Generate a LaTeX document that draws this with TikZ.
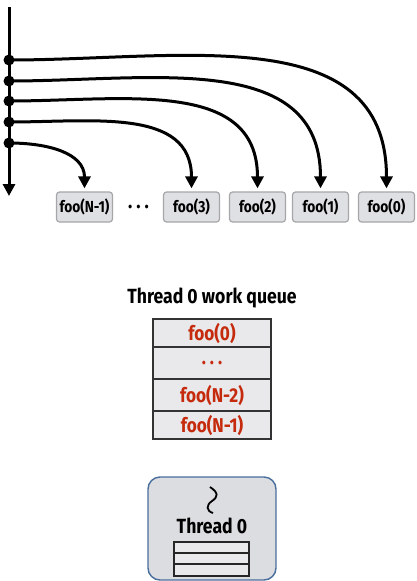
\documentclass[tikz,border=0pt]{standalone}
\usepackage{fontspec}
\setmainfont{Fira Sans}[FakeStretch=0.86]
\usetikzlibrary{arrows.meta,positioning}

\definecolor{taskfill}{HTML}{DFE0E3}
\definecolor{taskline}{HTML}{A6A6A8}
\definecolor{queuefill}{HTML}{E9E9EB}
\definecolor{queuered}{HTML}{C52A0C}
\definecolor{threadfill}{HTML}{DCDDE1}
\definecolor{threadline}{HTML}{4A6E9C}

\newcommand{\gapdots}{.\kern4pt.\kern4pt.}

\tikzset{
  spawn/.style={circle,fill=black,inner sep=0pt,minimum size=11pt},
  task/.style={draw=taskline,fill=taskfill,line width=1.2pt,rounded corners=3pt,
    minimum width=56pt,minimum height=30pt,inner xsep=2pt,
    font=\fontsize{16}{18}\selectfont\bfseries},
  fork/.style={line width=3pt,-{Triangle[length=12pt,width=12pt]}},
  qrow/.style={draw=black!80,fill=queuefill,line width=1.4pt,minimum width=118pt,
    outer sep=0pt,text=queuered,font=\fontsize{20}{22}\selectfont\bfseries},
  bigtext/.style={font=\fontsize{20.5}{22}\selectfont\bfseries}
}

\begin{document}
\begin{tikzpicture}[x=1pt,y=1pt]
\useasboundingbox (0,0) rectangle (417,-581);

% main thread
\coordinate (top) at (9,-7);
\coordinate (bot) at (9,-196);
\draw[fork] (top) -- (bot);

% spawn points
\node[spawn] (s0) at (9,-60) {};
\node[spawn] (s1) at (9,-81) {};
\node[spawn] (s2) at (9,-101) {};
\node[spawn] (s3) at (9,-122) {};
\node[spawn] (s4) at (9,-143) {};

% tasks
\node[task] (t4) at (84.5,-207) {foo(N-1)};
\node[bigtext] (dots) at (138.5,-207) {\gapdots};
\node[task] (t3) at (191.5,-207) {foo(3)};
\node[task] (t2) at (257.5,-207) {foo(2)};
\node[task] (t1) at (320.5,-207) {foo(1)};
\node[task] (t0) at (386.5,-207) {foo(0)};

\foreach \i in {0,...,4}
  \draw[fork,shorten >=3pt] (s\i.center) to[out=0,in=90,looseness=1.1] (t\i.north);

% work queue
\node[bigtext] (qtitle) at (212,-298) {Thread 0 work queue};
\node[qrow,minimum height=28pt] (q0) at (212,-333) {foo(0)};
\node[qrow,minimum height=32pt,below=0pt of q0] (q1) {\gapdots};
\node[qrow,minimum height=32pt,below=0pt of q1] (q2) {foo(N-2)};
\node[qrow,minimum height=28pt,below=0pt of q2] (q3) {foo(N-1)};

% thread
\node[draw=threadline,fill=threadfill,line width=1.4pt,rounded corners=12pt,
  minimum width=128pt,minimum height=103pt] (thread) at (212,-528.5) {};
\draw[line width=1.8pt] (210,-487) .. controls (219,-493) and (218,-497) .. (212,-501)
  .. controls (206,-505) and (206,-511) .. (213,-513);
\node[bigtext] (tname) at (212,-526) {Thread 0};
\foreach \y/\h in {-547.5/11,-558.5/11,-570/12}
  \node[draw=black!85,fill=queuefill,line width=1.2pt,minimum width=75pt,
    minimum height=\h pt,inner sep=0pt] at (211.5,\y) {};
\end{tikzpicture}
\end{document}
